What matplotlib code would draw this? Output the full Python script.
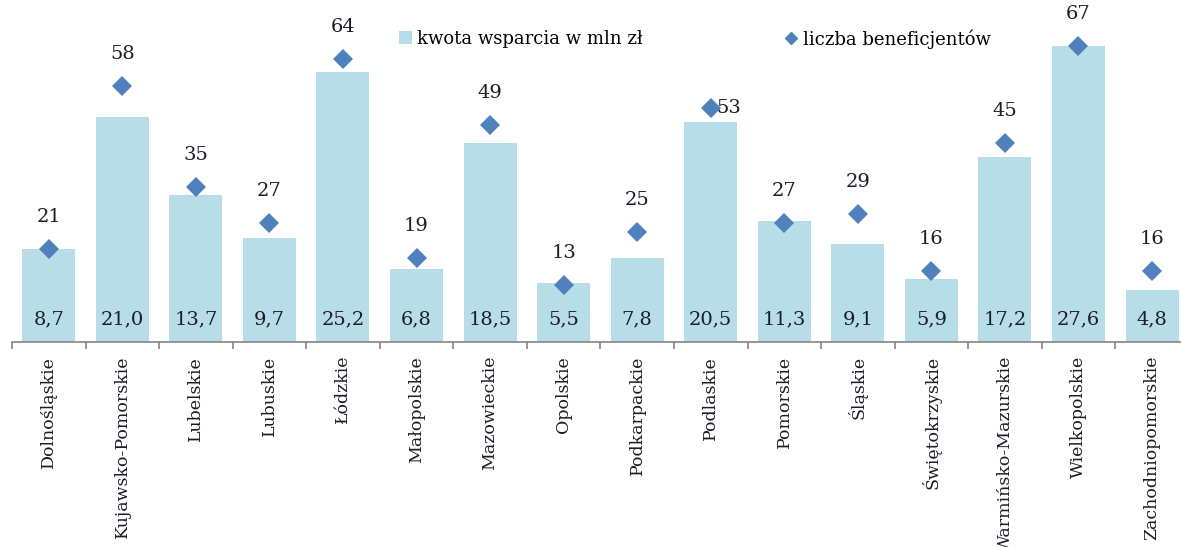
import matplotlib as mpl
mpl.use('Agg')
import matplotlib.pyplot as plt
from matplotlib.lines import Line2D
from matplotlib.patches import Patch

wojewodztwa = ["Dolnośląskie", "Kujawsko-Pomorskie", "Lubelskie", "Lubuskie", "Łódzkie",
               "Małopolskie", "Mazowieckie", "Opolskie", "Podkarpackie", "Podlaskie",
               "Pomorskie", "Śląskie", "Świętokrzyskie", "Warmińsko-Mazurskie",
               "Wielkopolskie", "Zachodniopomorskie"]
kwota = [8.7, 21.0, 13.7, 9.7, 25.2, 6.8, 18.5, 5.5, 7.8, 20.5, 11.3, 9.1, 5.9, 17.2, 27.6, 4.8]
beneficjenci = [21, 58, 35, 27, 64, 19, 49, 13, 25, 53, 27, 29, 16, 45, 67, 16]

bar_color = "#b7dde8"
dot_color = "#4f81bd"
txt_color = "#1c1c28"
plt.rcParams['font.family'] = ['DejaVu Serif']

W, H = 1181, 547
fig = plt.figure(figsize=(W / 100, H / 100), dpi=100)
# axis spans beyond the right edge, like the cropped original
left, bottom, top = 12, 342, 10
ax = fig.add_axes([left / W, (H - bottom) / H, 16 * 73.55 / W, (bottom - top) / H])
ax2 = ax.twinx()

x = list(range(len(wojewodztwa)))
ax.bar(x, kwota, width=0.72, color=bar_color, zorder=1)
ax.set_xlim(-0.5, len(x) - 0.5)
ax.set_ylim(0, (bottom - top) / 10.73)
ax2.set_ylim(0, (bottom - top) / 4.42)
ax2.plot(x, beneficjenci, 'D', color=dot_color, markersize=10, markeredgewidth=0, zorder=3)

for i, v in enumerate(kwota):
    ax.annotate(("%.1f" % v).replace(".", ","), xy=(i, 0), xytext=(0, 16.5),
                textcoords='offset points', ha='center', va='center',
                fontsize=14, color=txt_color)
for i, v in enumerate(beneficjenci):
    if wojewodztwa[i] == "Podlaskie":
        ax2.annotate(str(v), xy=(i, v), xytext=(4, 0), textcoords='offset points',
                     ha='left', va='center', fontsize=14, color=txt_color)
    else:
        ax2.annotate(str(v), xy=(i, v), xytext=(0, 23), textcoords='offset points',
                     ha='center', va='center', fontsize=14, color=txt_color)

for a in (ax, ax2):
    for s in ['top', 'right', 'left']:
        a.spines[s].set_visible(False)
    a.set_yticks([])
ax2.spines['bottom'].set_visible(False)
ax.spines['bottom'].set_color('#868686')
ax.spines['bottom'].set_linewidth(1.2)

ax.set_xticks([i - 0.5 for i in range(len(x) + 1)])
ax.set_xticklabels([])
ax.set_xticks(x, minor=True)
ax.set_xticklabels(wojewodztwa, minor=True, rotation=90, fontsize=12.5, color=txt_color)
ax.tick_params(axis='x', which='major', length=5, width=1.2, color='#868686', direction='out')
ax.tick_params(axis='x', which='minor', length=0, pad=10)

h1 = [Patch(facecolor=bar_color, edgecolor='none')]
h2 = [Line2D([], [], marker='D', linestyle='none', color=dot_color, markersize=6.5)]
fig.legend(h1, ["kwota wsparcia w mln zł"], loc='center left',
           bbox_to_anchor=(390 / W, 1 - 39 / H), frameon=False, fontsize=13,
           handlelength=0.7, handleheight=0.7, handletextpad=0.3, borderpad=0)
fig.legend(h2, ["liczba beneficjentów"], loc='center left',
           bbox_to_anchor=(776 / W, 1 - 39 / H), frameon=False, fontsize=13,
           handlelength=0.7, handletextpad=0.3, borderpad=0)

fig.savefig("out.png", dpi=100)
